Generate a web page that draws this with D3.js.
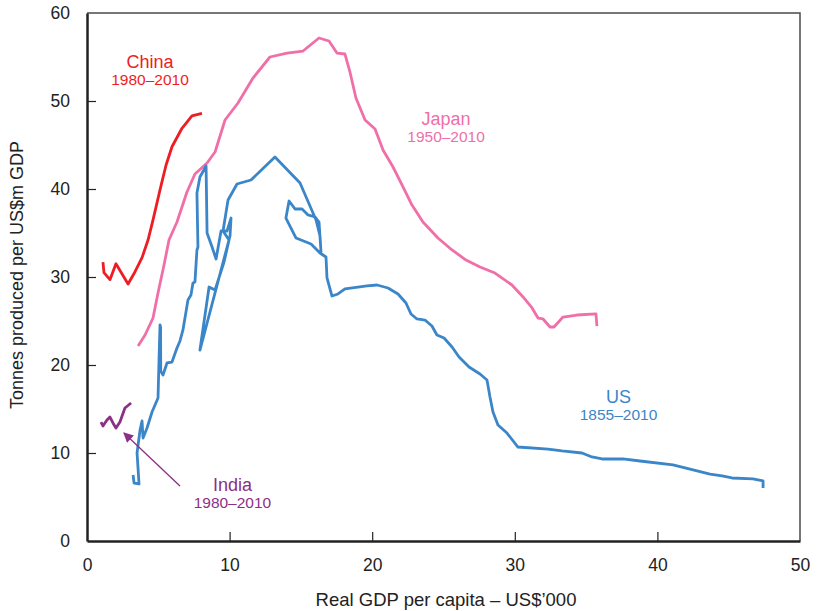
<!DOCTYPE html>
<html>
<head>
<meta charset="utf-8">
<script src="https://cdn.jsdelivr.net/npm/d3@7/dist/d3.min.js"></script>
<style>
  html, body { margin: 0; padding: 0; background: #fff; }
  svg text { font-family: "Liberation Sans", Arial, Helvetica, sans-serif; }
</style>
</head>
<body>
<svg id="chart" width="817" height="611"></svg>
<script>
// Steel intensity: tonnes produced per US$m GDP vs real GDP per capita (US$'000)
const xTicks = [0, 10, 20, 30, 40, 50];
const yTicks = [0, 10, 20, 30, 40, 50, 60];

const chinaX = [1.12, 1.19, 1.61, 2.03, 2.88, 3.37, 3.86, 4.28, 4.63, 5.12, 5.54, 5.96, 6.66, 7.36, 8.06];
const chinaY = [31.7, 30.5, 29.7, 31.5, 29.2, 30.6, 32.2, 34.2, 36.5, 39.9, 42.7, 44.8, 46.9, 48.3, 48.6];

const indiaX = [0.98, 1.12, 1.40, 1.61, 1.82, 2.03, 2.31, 2.66, 3.09];
const indiaY = [13.52, 13.07, 13.75, 14.09, 13.41, 12.84, 13.52, 15.11, 15.68];

const japanX = [3.58, 4.07, 4.63, 4.98, 5.40, 5.75, 6.31, 7.01, 7.57, 8.42, 8.98, 9.68, 10.59, 11.64, 12.83,
  14.03, 15.15, 16.27, 16.97, 17.53, 18.09, 18.44, 18.86, 19.50, 20.20, 20.76, 21.46, 22.16, 22.79, 23.56,
  24.61, 25.60, 26.58, 27.56, 28.61, 29.80, 30.58, 31.21, 31.63, 31.98, 32.47, 32.75, 33.38, 34.36, 35.69, 35.76];
const japanY = [22.16, 23.41, 25.34, 28.18, 31.36, 34.20, 36.25, 39.66, 41.70, 42.95, 44.20, 47.84, 49.77, 52.61, 55.00,
  55.45, 55.68, 57.16, 56.82, 55.45, 55.34, 53.30, 50.34, 47.84, 46.82, 44.43, 42.50, 40.23, 38.18, 36.25,
  34.43, 33.07, 31.93, 31.14, 30.45, 29.09, 27.73, 26.48, 25.34, 25.23, 24.32, 24.32, 25.45, 25.68, 25.80, 24.43];

const usX = [3.23, 3.30, 3.65, 3.51, 3.72, 3.86, 3.93, 4.21, 4.56, 4.98, 5.05, 5.12, 5.16, 5.17, 5.33,
  5.61, 5.96, 6.31, 6.52, 6.73, 7.08, 7.29, 7.43, 7.57, 7.71, 7.78, 7.71, 7.92, 8.35, 8.42,
  8.77, 9.05, 9.40, 9.82, 10.10, 10.03, 7.92, 8.56, 8.98, 9.61, 9.96, 9.54, 9.89, 10.52, 11.50,
  13.18, 14.94, 16.06, 16.34, 16.41, 16.27, 15.99, 15.50, 15.08, 14.59, 14.17, 13.95, 14.66, 15.71, 16.34,
  16.76, 16.83, 17.18, 17.60, 18.09, 19.64, 20.34, 21.11, 21.81, 22.37, 22.72, 23.14, 23.70, 24.19, 24.54,
  25.04, 25.60, 26.09, 26.79, 27.56, 28.05, 28.26, 28.47, 28.82, 29.45, 30.22, 32.33, 33.31, 34.71, 35.41,
  36.12, 37.59, 38.78, 41.09, 42.29, 43.69, 44.53, 45.23, 46.70, 47.41, 47.41];
const usY = [7.50, 6.59, 6.48, 10.00, 12.61, 13.64, 11.70, 12.84, 14.66, 16.25, 20.57, 24.55, 24.30, 19.30, 18.86,
  20.23, 20.34, 21.93, 22.73, 23.98, 27.39, 27.95, 29.32, 29.43, 33.07, 33.41, 39.55, 41.36, 42.61, 35.00,
  33.41, 32.05, 35.23, 35.23, 36.70, 34.66, 21.70, 28.86, 28.52, 31.70, 34.20, 35.23, 38.75, 40.57, 41.02,
  43.64, 40.68, 36.48, 34.66, 32.84, 36.25, 36.82, 37.05, 37.73, 37.73, 38.64, 36.70, 34.43, 33.75, 32.73,
  32.27, 29.89, 27.84, 28.07, 28.64, 28.98, 29.09, 28.75, 28.07, 27.05, 25.80, 25.23, 25.11, 24.43, 23.41,
  23.07, 22.05, 20.91, 19.77, 18.98, 18.30, 16.36, 14.66, 13.18, 12.27, 10.68, 10.45, 10.23, 10.00, 9.55,
  9.32, 9.32, 9.09, 8.64, 8.18, 7.61, 7.39, 7.16, 7.05, 6.82, 6.02];

const seriesNames = ["China", "Japan", "US", "India"];
const seriesYears = ["1980–2010", "1950–2010", "1855–2010", "1980–2010"];
const seriesColors = ["#ee1d23", "#f06fa8", "#3b86c8", "#8c2f86"];

const W = 817, H = 611;
const margin = { left: 87, right: 17, top: 13, bottom: 70 };
const iw = W - margin.left - margin.right;
const ih = H - margin.top - margin.bottom;

const x = d3.scaleLinear().domain([0, 50]).range([0, iw]);
const y = d3.scaleLinear().domain([0, 60]).range([ih, 0]);

const svg = d3.select("#chart");
const g = svg.append("g").attr("transform", `translate(${margin.left},${margin.top})`);

// frame (top & right)
g.append("path")
  .attr("d", `M0,0H${iw}V${ih}`)
  .attr("fill", "none").attr("stroke", "#4a4a4a").attr("stroke-width", 1.5);

// axes with inward ticks
const xAxis = d3.axisBottom(x).tickValues(xTicks).tickSizeInner(-9).tickSizeOuter(0).tickPadding(18);
const yAxis = d3.axisLeft(y).tickValues(yTicks).tickSizeInner(-9).tickSizeOuter(0).tickPadding(17);

const gx = g.append("g").attr("transform", `translate(0,${ih})`).call(xAxis);
const gy = g.append("g").call(yAxis);
[gx, gy].forEach(a => {
  a.select(".domain").attr("stroke", "#222").attr("stroke-width", 2.5);
  a.selectAll(".tick line").attr("stroke", "#222").attr("stroke-width", 1.2);
  a.selectAll(".tick text").attr("fill", "#222").style("font-size", "17.5px");
});
gy.selectAll(".tick").filter(d => d === 0 || d === 60).select("line").remove();
gx.selectAll(".tick").filter(d => d === 0 || d === 50).select("line").remove();

// axis titles
svg.append("text")
  .attr("x", 446).attr("y", 606)
  .attr("text-anchor", "middle").attr("fill", "#222")
  .style("font-size", "18.5px")
  .text("Real GDP per capita – US$’000");
svg.append("text")
  .attr("transform", `translate(23,${margin.top + ih / 2 - 2}) rotate(-90)`)
  .attr("text-anchor", "middle").attr("fill", "#222")
  .style("font-size", "18px")
  .text("Tonnes produced per US$m GDP");

// series lines
const line = d3.line().x(d => x(d[0])).y(d => y(d[1]));
const series = [
  d3.zip(chinaX, chinaY),
  d3.zip(japanX, japanY),
  d3.zip(usX, usY),
  d3.zip(indiaX, indiaY)
];
series.forEach((pts, i) => {
  g.append("path")
    .datum(pts)
    .attr("d", line)
    .attr("fill", "none")
    .attr("stroke", seriesColors[i])
    .attr("stroke-width", 2.8)
    .attr("stroke-linejoin", "round")
    .attr("stroke-linecap", "butt");
});

// series labels (name baseline anchor in data units)
const labelX = [4.42, 25.18, 37.27, 10.20];
const labelY = [53.75, 47.27, 15.68, 5.68];
seriesNames.forEach((name, i) => {
  const t = g.append("text")
    .attr("x", x(labelX[i])).attr("y", y(labelY[i]))
    .attr("text-anchor", "middle").attr("fill", seriesColors[i]);
  t.append("tspan").style("font-size", "18px").text(name);
  t.append("tspan").attr("x", x(labelX[i])).attr("dy", 16.5)
    .style("font-size", "15.5px").text(seriesYears[i]);
});

// India pointer arrow
svg.append("defs").append("marker")
  .attr("id", "arrowhead").attr("viewBox", "0 0 10 10")
  .attr("refX", 9).attr("refY", 5)
  .attr("markerWidth", 12).attr("markerHeight", 10)
  .attr("markerUnits", "userSpaceOnUse")
  .attr("orient", "auto")
  .append("path").attr("d", "M0,0L10,5L0,10Z").attr("fill", seriesColors[3]);
g.append("line")
  .attr("x1", x(6.52)).attr("y1", y(6.25))
  .attr("x2", x(2.59)).attr("y2", y(12.27))
  .attr("stroke", seriesColors[3]).attr("stroke-width", 1.3)
  .attr("marker-end", "url(#arrowhead)");
</script>
</body>
</html>
